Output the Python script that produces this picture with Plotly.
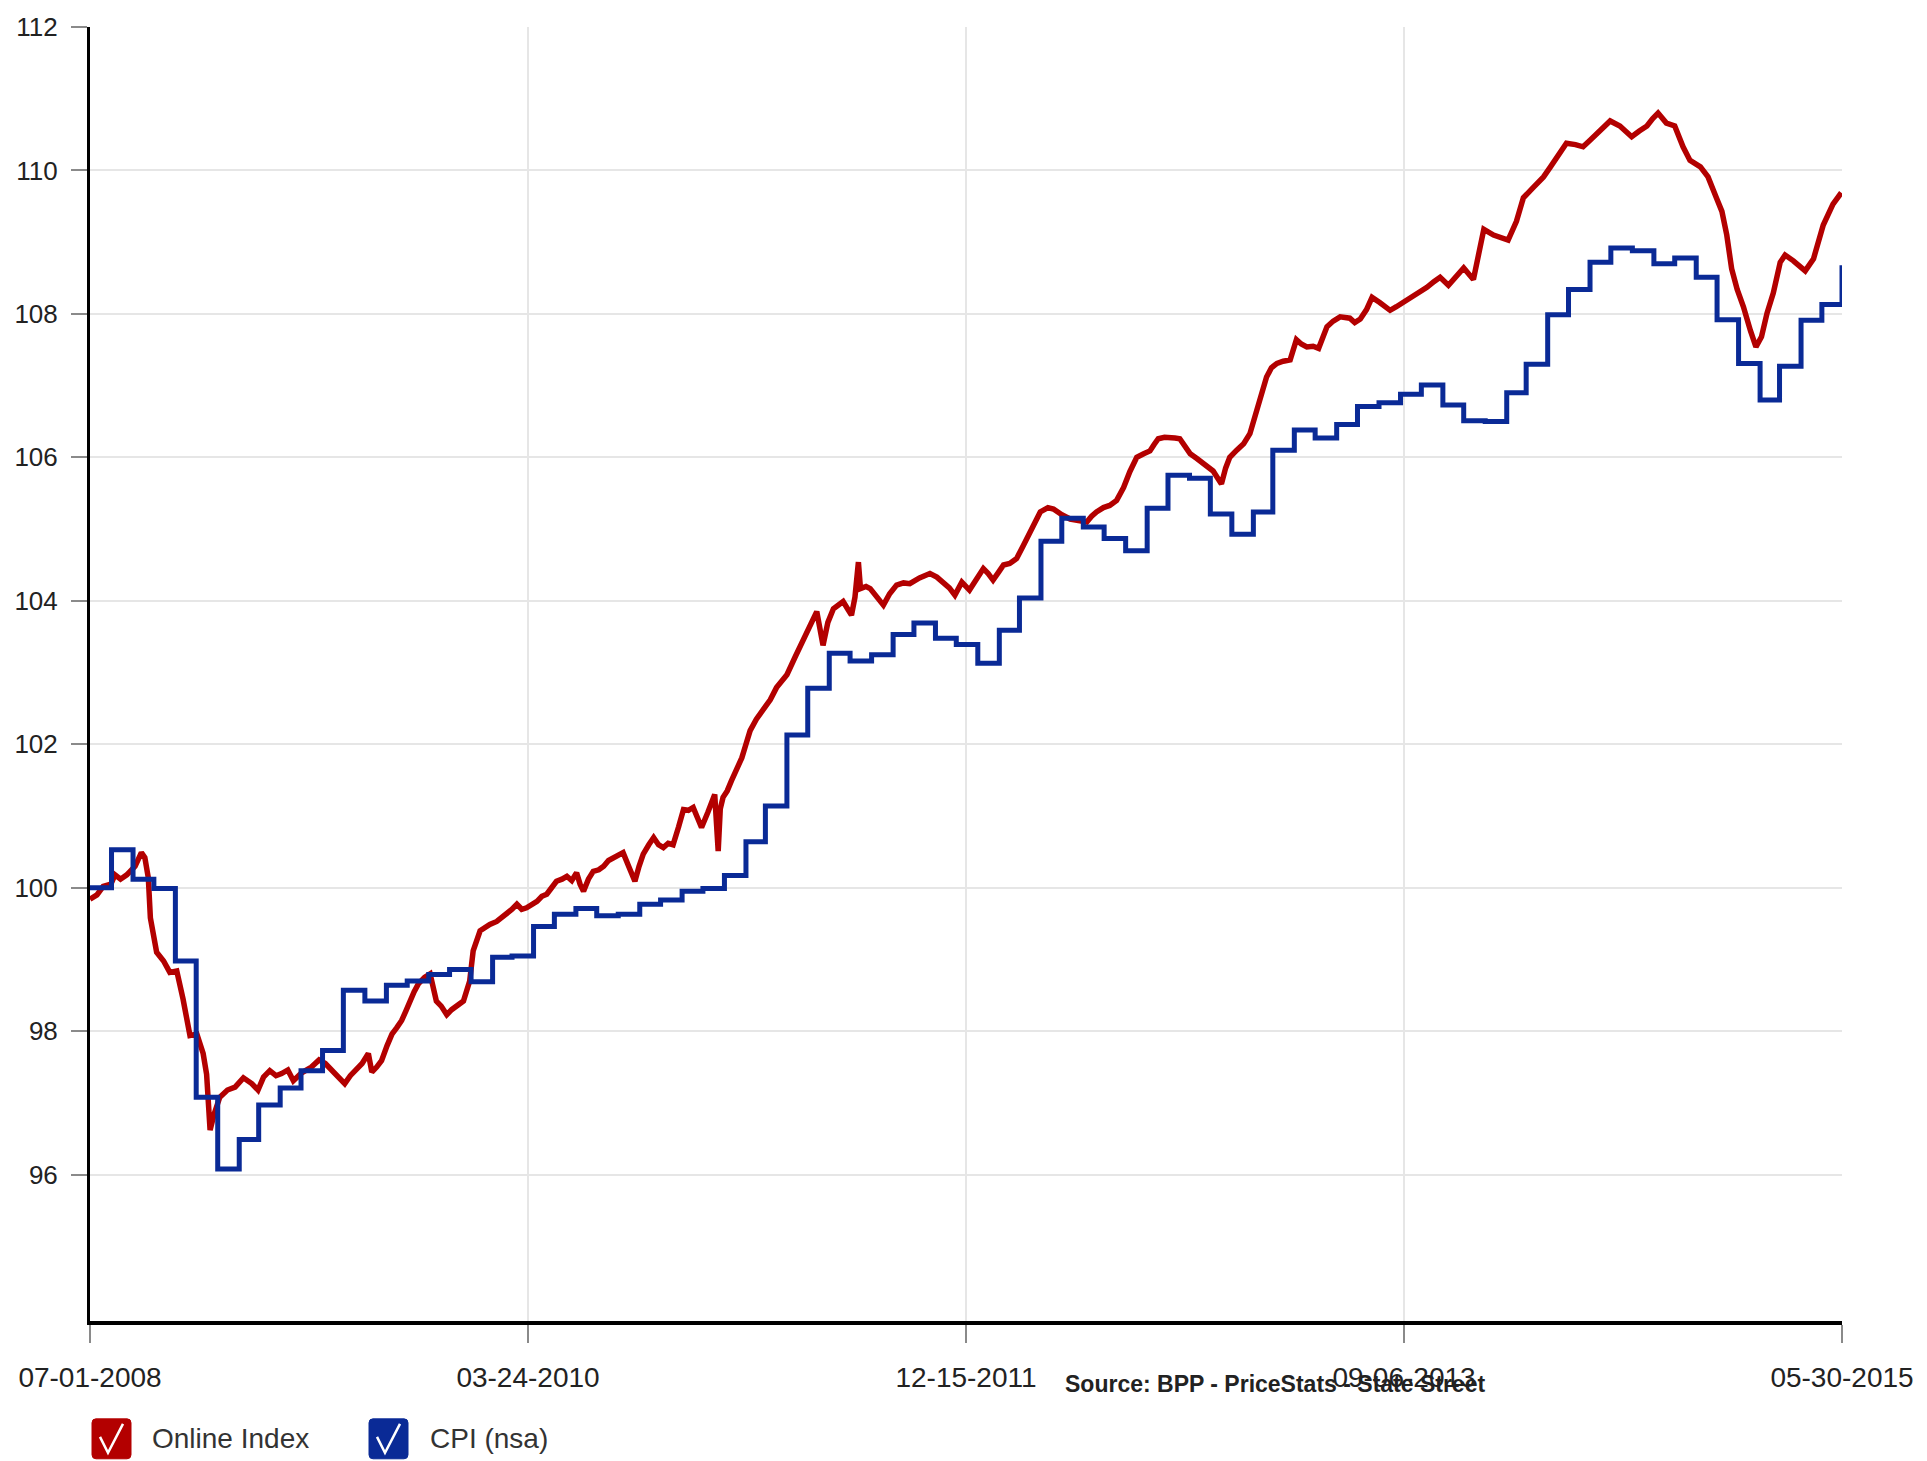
import pandas as pd
import plotly.graph_objects as go

# ---------------- data ----------------
BASE_DATE = "2008-07-01"
END_DATE = "2015-05-30"

x_tick_dates = ["2008-07-01", "2010-03-24", "2011-12-15", "2013-09-06", "2015-05-30"]
x_tick_labels = ["07-01-2008", "03-24-2010", "12-15-2011", "09-06-2013", "05-30-2015"]
y_tick_values = [96, 98, 100, 102, 104, 106, 108, 110, 112]

# Online Index: days after 07-01-2008 and index values
online_day_offsets = [
    0, 10, 19, 30, 36, 44, 53, 65, 74, 79, 84, 87, 96, 106, 115, 125, 134, 144, 154, 163,
    168, 173, 179, 187, 198, 209, 221, 233, 242, 250, 259, 268, 276, 285, 293, 305, 319, 330, 339, 350,
    358, 367, 375, 382, 392, 401, 406, 413, 420, 428, 435, 442, 449, 455, 461, 467, 473, 482, 490, 499,
    506, 514, 521, 528, 538, 547, 552, 562, 569, 576, 586, 600, 608, 615, 622, 629, 644, 651, 658, 665,
    672, 680, 687, 694, 701, 706, 711, 718, 725, 733, 740, 747, 754, 761, 768, 776, 785, 791, 797, 805,
    812, 819, 826, 833, 840, 848, 855, 862, 869, 875, 881, 890, 900, 905, 908, 912, 918, 924, 931, 939,
    945, 951, 960, 970, 980, 989, 1004, 1016, 1028, 1038, 1047, 1056, 1063, 1071, 1078, 1085, 1092, 1097, 1102, 1107,
    1110, 1118, 1124, 1134, 1143, 1152, 1162, 1172, 1181, 1195, 1210, 1220, 1229, 1238, 1246, 1256, 1267, 1277, 1287, 1294,
    1301, 1309, 1316, 1325, 1335, 1345, 1354, 1362, 1369, 1380, 1388, 1400, 1412, 1424, 1436, 1443, 1450, 1460, 1469, 1479,
    1489, 1498, 1508, 1518, 1527, 1533, 1539, 1548, 1556, 1563, 1570, 1578, 1585, 1595, 1604, 1611, 1618, 1624, 1630, 1636,
    1642, 1652, 1662, 1671, 1681, 1688, 1695, 1702, 1710, 1719, 1729, 1738, 1745, 1753, 1762, 1770, 1776, 1782, 1791, 1801,
    1808, 1815, 1822, 1830, 1839, 1847, 1858, 1873, 1882, 1892, 1906, 1916, 1926, 1936, 1945, 1957, 1968, 1979, 1993, 2000,
    2008, 2022, 2033, 2043, 2055, 2065, 2079, 2094, 2104, 2113, 2120, 2127, 2140, 2151, 2161, 2171, 2181, 2190, 2204, 2213,
    2221, 2232, 2243, 2251, 2259, 2271, 2283, 2295, 2305, 2320, 2331, 2343, 2351, 2358, 2365, 2373, 2382, 2392, 2400, 2408,
    2416, 2425, 2435, 2442, 2454, 2471, 2483, 2497, 2511, 2523,
]
online_values = [
    99.84, 99.90, 100.02, 100.05, 100.18, 100.12, 100.18, 100.30, 100.49, 100.42, 100.14, 99.58, 99.10, 98.98, 98.82, 98.84, 98.45, 97.94, 97.96, 97.69,
    97.40, 96.62, 96.85, 97.08, 97.18, 97.22, 97.35, 97.27, 97.18, 97.36, 97.45, 97.38, 97.41, 97.46, 97.31, 97.42, 97.50, 97.60, 97.55, 97.45,
    97.36, 97.27, 97.38, 97.45, 97.55, 97.69, 97.43, 97.50, 97.59, 97.80, 97.96, 98.05, 98.15, 98.28, 98.43, 98.55, 98.66, 98.75, 98.80, 98.42,
    98.35, 98.23, 98.30, 98.35, 98.42, 98.70, 99.12, 99.40, 99.45, 99.49, 99.53, 99.63, 99.70, 99.77, 99.70, 99.72, 99.81, 99.88, 99.91, 100.00,
    100.09, 100.12, 100.16, 100.10, 100.21, 100.05, 99.95, 100.12, 100.23, 100.25, 100.30, 100.38, 100.42, 100.45, 100.49, 100.30, 100.09, 100.30, 100.47, 100.60,
    100.70, 100.60, 100.56, 100.62, 100.60, 100.85, 101.09, 101.08, 101.12, 100.98, 100.84, 101.05, 101.30, 100.51, 101.10, 101.26, 101.35, 101.49, 101.62, 101.81,
    102.00, 102.19, 102.35, 102.47, 102.62, 102.79, 102.97, 103.22, 103.48, 103.68, 103.85, 103.38, 103.70, 103.89, 103.95, 103.99, 103.88, 103.80, 104.05, 104.54,
    104.17, 104.20, 104.17, 104.05, 103.94, 104.10, 104.22, 104.25, 104.24, 104.32, 104.38, 104.33, 104.26, 104.18, 104.08, 104.26, 104.15, 104.30, 104.45, 104.38,
    104.29, 104.40, 104.50, 104.52, 104.59, 104.78, 104.96, 105.10, 105.24, 105.30, 105.28, 105.20, 105.14, 105.12, 105.10, 105.18, 105.24, 105.30, 105.33, 105.40,
    105.58, 105.80, 106.00, 106.05, 106.09, 106.18, 106.26, 106.28, 106.28, 106.27, 106.26, 106.15, 106.05, 105.98, 105.91, 105.86, 105.81, 105.72, 105.63, 105.85,
    106.00, 106.10, 106.19, 106.33, 106.65, 106.90, 107.12, 107.25, 107.31, 107.34, 107.36, 107.64, 107.58, 107.54, 107.55, 107.52, 107.68, 107.82, 107.90, 107.96,
    107.95, 107.94, 107.88, 107.93, 108.06, 108.23, 108.16, 108.05, 108.10, 108.16, 108.26, 108.32, 108.37, 108.45, 108.51, 108.40, 108.52, 108.64, 108.48, 108.80,
    109.18, 109.10, 109.06, 109.03, 109.29, 109.62, 109.76, 109.91, 110.05, 110.19, 110.30, 110.38, 110.36, 110.33, 110.42, 110.52, 110.60, 110.69, 110.62, 110.55,
    110.47, 110.55, 110.62, 110.72, 110.80, 110.66, 110.62, 110.33, 110.14, 110.05, 109.91, 109.62, 109.43, 109.10, 108.63, 108.34, 108.10, 107.77, 107.54, 107.68,
    108.01, 108.29, 108.72, 108.82, 108.74, 108.60, 108.77, 109.24, 109.53, 109.69,
]

# CPI (nsa): one level per month (Jul 2008 .. May 2015) plus the closing value at 05-30-2015
cpi_values = [
    100.00, 100.53, 100.12, 99.99, 98.98, 97.08,
    96.08, 96.49, 96.97, 97.21, 97.45, 97.73, 98.57, 98.42, 98.64, 98.70, 98.79, 98.86,
    98.69, 99.03, 99.05, 99.46, 99.63, 99.71, 99.61, 99.63, 99.77, 99.83, 99.95, 99.99,
    100.17, 100.64, 101.14, 102.13, 102.78, 103.27, 103.16, 103.25, 103.53, 103.69, 103.48, 103.39,
    103.13, 103.59, 104.04, 104.83, 105.15, 105.03, 104.87, 104.70, 105.29, 105.75, 105.71, 105.21,
    104.93, 105.24, 106.10, 106.38, 106.27, 106.46, 106.71, 106.76, 106.88, 107.01, 106.73, 106.51,
    106.50, 106.90, 107.30, 107.99, 108.34, 108.72, 108.92, 108.88, 108.70, 108.78, 108.51, 107.92,
    107.31, 106.80, 107.27, 107.91, 108.13,
    108.68,
]

series_names = ["Online Index", "CPI (nsa)"]
source_text = "Source: BPP - PriceStats - State Street"

# ---------------- styles ----------------
RED = "#B30000"
BLUE = "#0A2A96"
FONT = "Liberation Sans, Arial, sans-serif"
W, H = 1927, 1461
ML, MR, MT, MB = 90, 85, 25, 140
PW, PH = W - ML - MR, H - MT - MB


def px_x(px):
    return (px - ML) / PW


def px_y(py):
    return (H - MB - py) / PH


online_dates = pd.Timestamp(BASE_DATE) + pd.to_timedelta(online_day_offsets, unit="D")
cpi_dates = list(pd.date_range(BASE_DATE, periods=len(cpi_values) - 1, freq="MS")) + [pd.Timestamp(END_DATE)]

fig = go.Figure()
fig.add_trace(go.Scatter(x=online_dates, y=online_values, mode="lines",
                         line=dict(color=RED, width=5.5), name=series_names[0]))
fig.add_trace(go.Scatter(x=cpi_dates, y=cpi_values, mode="lines",
                         line=dict(color=BLUE, width=5, shape="hv"), name=series_names[1]))

# ---- legend drawn as check boxes ----
shapes = []
annotations = []


def rounded_box(x0, y0, x1, y1, r):
    return (f"M {px_x(x0 + r)},{px_y(y0)} L {px_x(x1 - r)},{px_y(y0)} "
            f"Q {px_x(x1)},{px_y(y0)} {px_x(x1)},{px_y(y0 + r)} "
            f"L {px_x(x1)},{px_y(y1 - r)} Q {px_x(x1)},{px_y(y1)} {px_x(x1 - r)},{px_y(y1)} "
            f"L {px_x(x0 + r)},{px_y(y1)} Q {px_x(x0)},{px_y(y1)} {px_x(x0)},{px_y(y1 - r)} "
            f"L {px_x(x0)},{px_y(y0 + r)} Q {px_x(x0)},{px_y(y0)} {px_x(x0 + r)},{px_y(y0)} Z")


legend_items = [(series_names[0], RED, 92, 150), (series_names[1], BLUE, 369, 428)]
for name, color, bx, tx in legend_items:
    by0, by1 = 1419, 1459
    shapes.append(dict(type="path", xref="paper", yref="paper",
                       path=rounded_box(bx, by0, bx + 39, by1, 4),
                       fillcolor=color, line=dict(color=color, width=1), layer="above"))
    chk = (f"M {px_x(bx + 8)},{px_y(1437)} L {px_x(bx + 16)},{px_y(1453)} "
           f"L {px_x(bx + 31)},{px_y(1424)}")
    shapes.append(dict(type="path", xref="paper", yref="paper", path=chk,
                       line=dict(color="white", width=2.5), layer="above"))
    annotations.append(dict(text=name, xref="paper", yref="paper", x=px_x(tx), y=px_y(1439),
                            xanchor="left", yanchor="middle", showarrow=False,
                            font=dict(family=FONT, size=28, color="#333333")))

annotations.append(dict(text=f"<b>{source_text}</b>", xref="paper", yref="paper",
                        x=px_x(1275), y=px_y(1384), xanchor="center", yanchor="middle",
                        showarrow=False, font=dict(family=FONT, size=23, color="#222222")))

fig.update_layout(
    width=W, height=H, autosize=False,
    margin=dict(l=ML, r=MR, t=MT, b=MB),
    paper_bgcolor="white", plot_bgcolor="white",
    showlegend=False,
    shapes=shapes, annotations=annotations,
    font=dict(family=FONT, color="#222222"),
    xaxis=dict(type="date", range=[BASE_DATE, END_DATE],
               tickvals=x_tick_dates, ticktext=x_tick_labels,
               showline=True, linecolor="black", linewidth=4,
               ticks="outside", ticklen=18, tickcolor="#8a8a8a", tickwidth=1.5,
               showgrid=True, gridcolor="#e6e6e6", gridwidth=1.5, zeroline=False,
               tickfont=dict(family=FONT, size=28, color="#222222"),
               ticklabelstandoff=10),
    yaxis=dict(range=[93.96, 112], tickvals=y_tick_values,
               showline=True, linecolor="black", linewidth=3,
               ticks="outside", ticklen=16, tickcolor="#8a8a8a", tickwidth=1.5,
               showgrid=True, gridcolor="#e6e6e6", gridwidth=1.5, zeroline=False,
               tickfont=dict(family=FONT, size=26, color="#222222"),
               ticklabelstandoff=8),
)

fig.write_html("out.html", config={"displayModeBar": False},
               post_script="document.body.style.margin='0';document.body.style.overflow='hidden';")
